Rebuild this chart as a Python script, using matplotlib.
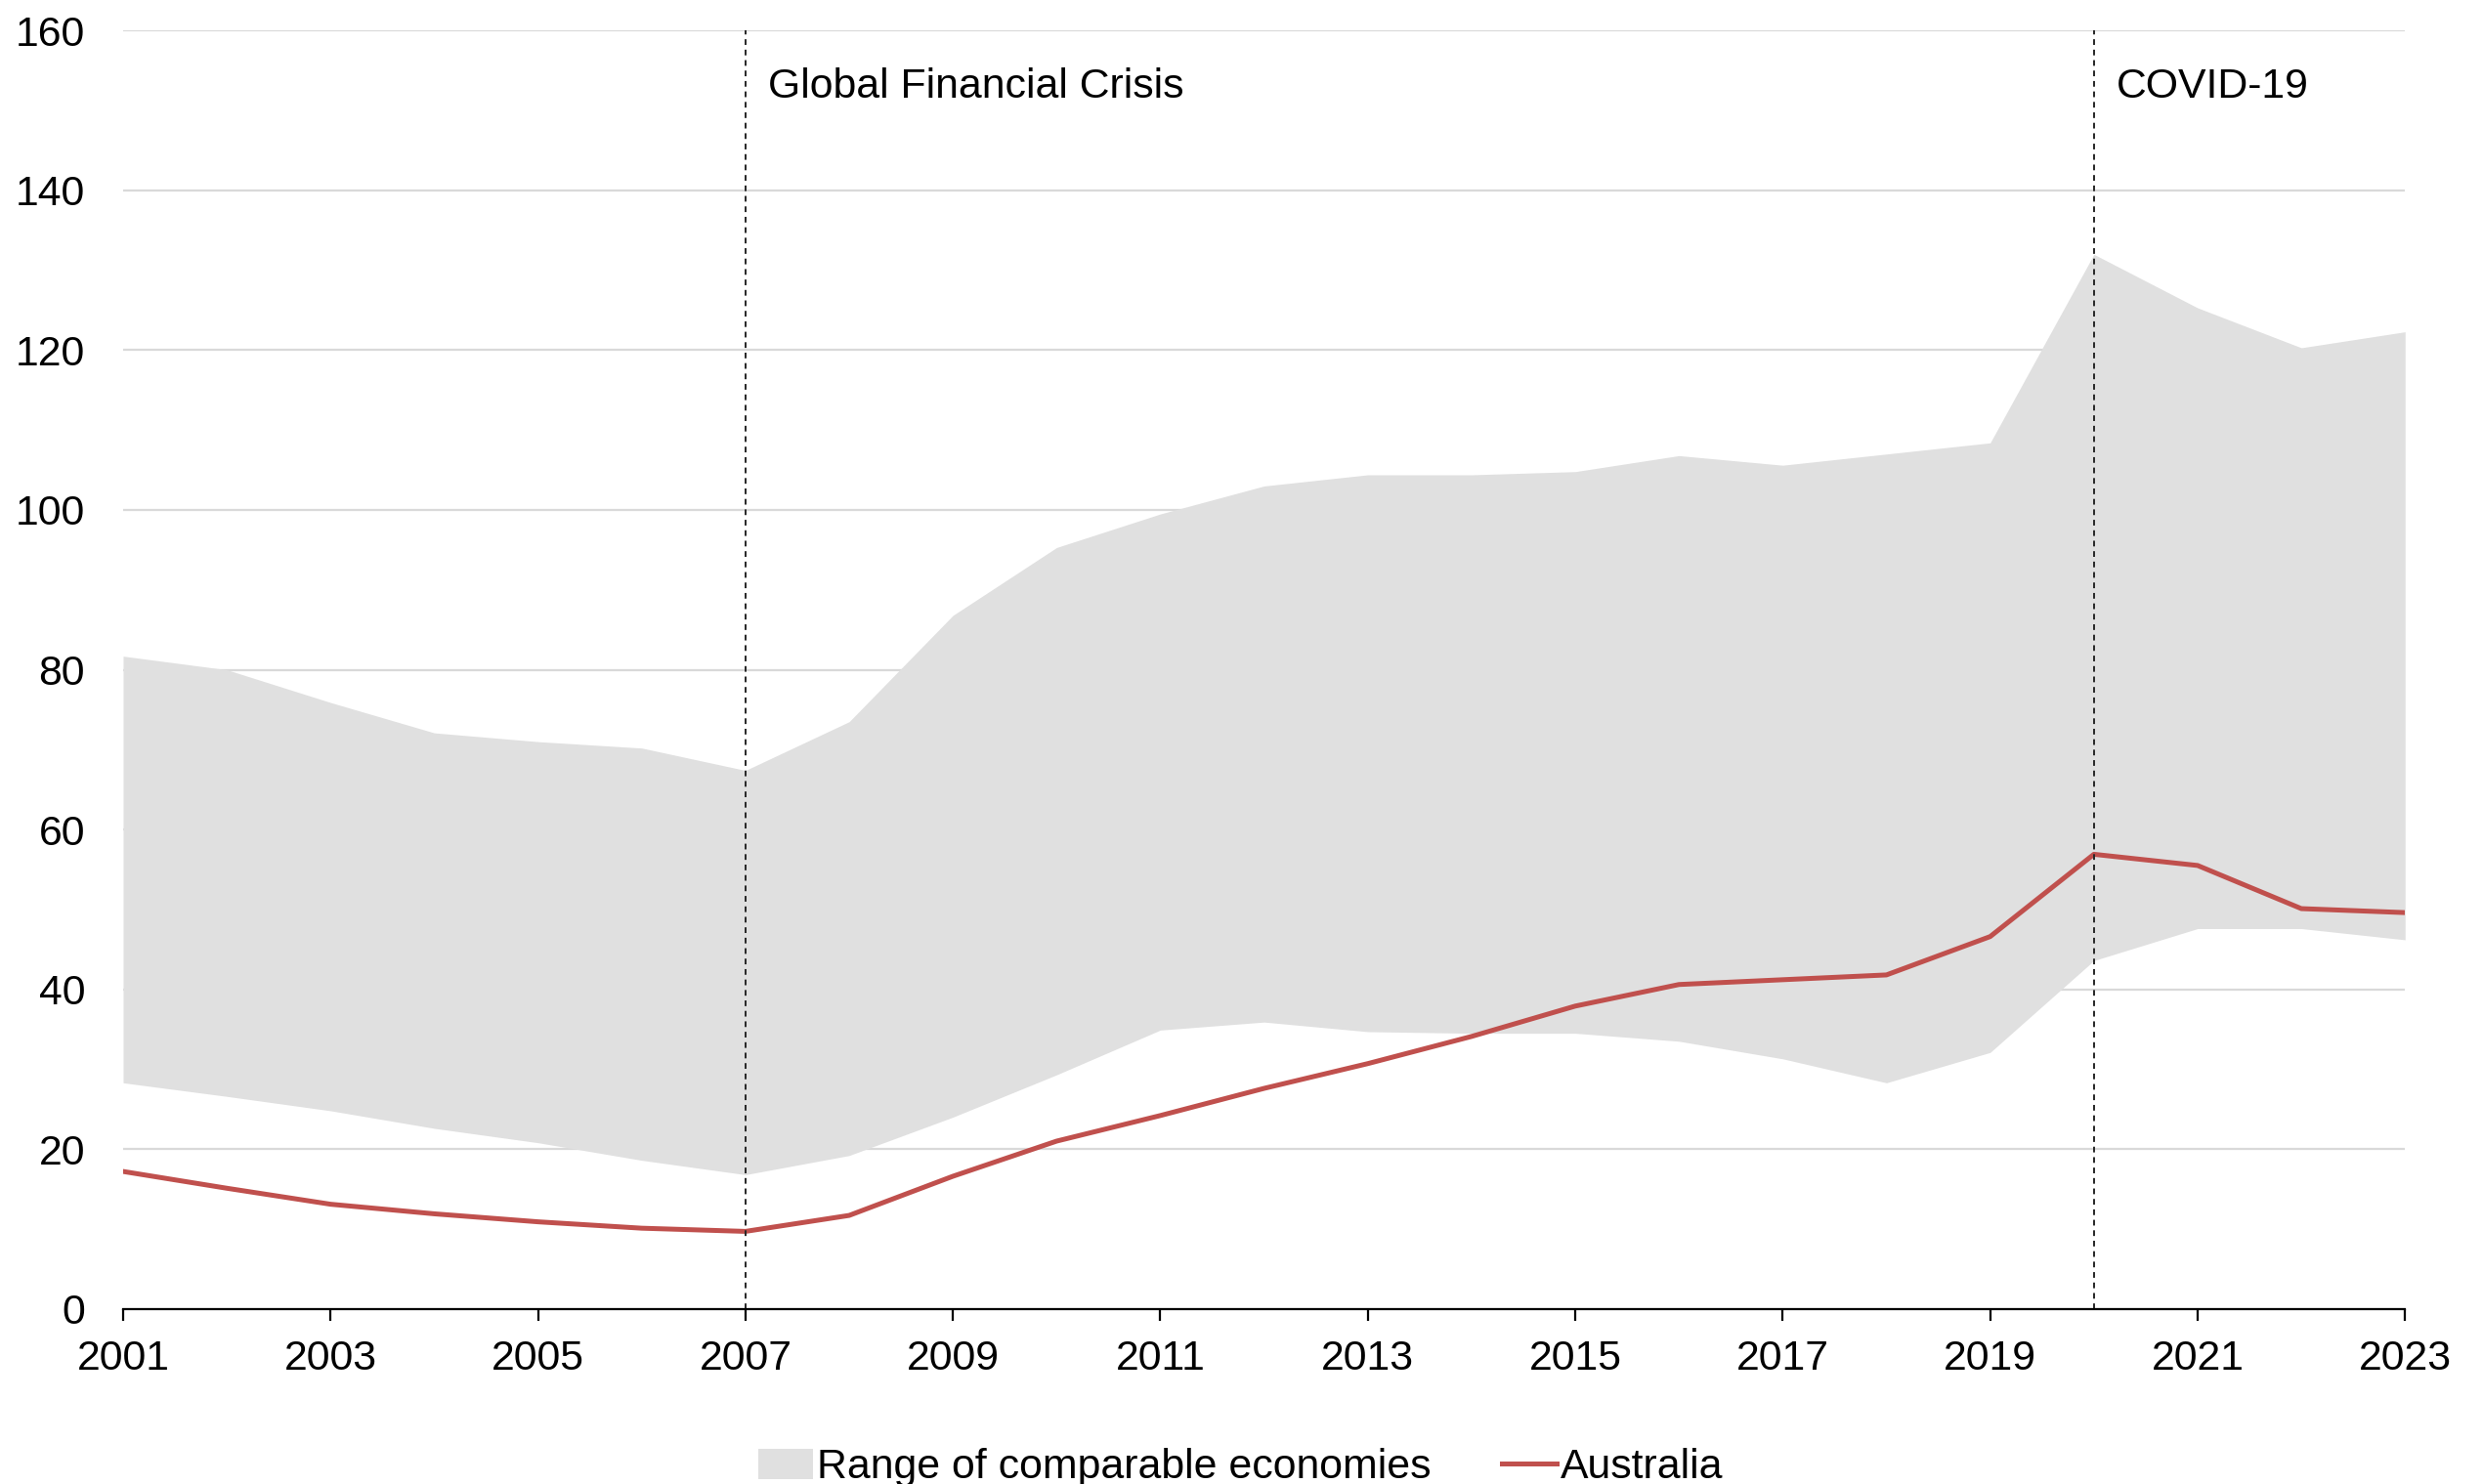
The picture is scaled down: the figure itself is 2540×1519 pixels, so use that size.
import matplotlib
matplotlib.use("Agg")
import matplotlib.pyplot as plt
from matplotlib.patches import Patch
from matplotlib.lines import Line2D

plt.rcParams['font.family'] = ['Liberation Sans', 'DejaVu Sans']

years = list(range(2001, 2024))
range_high = [81.7, 80.0, 75.9, 72.1, 71.0, 70.2, 67.4, 73.5, 86.8, 95.3, 99.5, 103.0,
              104.4, 104.4, 104.8, 106.8, 105.6, 107.0, 108.4, 132.0, 125.3, 120.3, 122.3]
range_low = [28.3, 26.6, 24.8, 22.6, 20.8, 18.6, 16.8, 19.2, 24.0, 29.3, 34.9, 35.9,
             34.7, 34.5, 34.5, 33.5, 31.3, 28.3, 32.1, 43.6, 47.6, 47.6, 46.2]
australia = [17.2, 15.1, 13.1, 11.9, 10.9, 10.1, 9.7, 11.7, 16.6, 21.0, 24.2, 27.6,
             30.7, 34.1, 37.9, 40.6, 41.2, 41.8, 46.6, 56.9, 55.5, 50.1, 49.6]

events = [(2007, "Global Financial Crisis"), (2020, "COVID-19")]

band_color = "#e0e0e0"
line_color = "#c0504d"
fs = 15.4

fig = plt.figure(figsize=(12.7, 7.595), dpi=200)
ax = fig.add_axes([0.0496, 0.118, 0.9194, 0.8614])

ax.fill_between(years, range_low, range_high, color=band_color, linewidth=0, zorder=1)
ax.plot(years, australia, color=line_color, linewidth=1.8, zorder=3)

for yr, label in events:
    ax.axvline(yr, color="#262626", linewidth=0.7, linestyle=(0, (3, 2.5)), zorder=4)
    ax.text(yr + 0.22, 153, label, fontsize=fs, va="center", ha="left", zorder=5)

ax.set_xlim(2001, 2023)
ax.set_ylim(0, 160)
ax.set_xticks(range(2001, 2024, 2))
ax.set_yticks(range(0, 161, 20))
ax.yaxis.grid(True, color="#d9d9d9", linewidth=0.8)
ax.set_axisbelow(True)

for side in ["top", "right", "left"]:
    ax.spines[side].set_visible(False)
ax.spines["bottom"].set_linewidth(0.8)
ax.spines["bottom"].set_zorder(6)

ax.tick_params(axis="x", direction="out", length=4.3, width=0.8, pad=7, labelsize=fs)
ax.tick_params(axis="y", length=0, pad=14, labelsize=fs)

handles = [Patch(facecolor=band_color, edgecolor="none"),
           Line2D([0], [0], color=line_color, linewidth=1.8)]
fig.legend(handles, ["Range of comparable economies", "Australia"],
           loc="center", bbox_to_anchor=(0.5, 0.011), ncol=2, frameon=False,
           fontsize=fs, handlelength=1.3, handleheight=0.75, handletextpad=0.1,
           columnspacing=1.7, borderaxespad=0)

fig.savefig("out.png", dpi=200)
